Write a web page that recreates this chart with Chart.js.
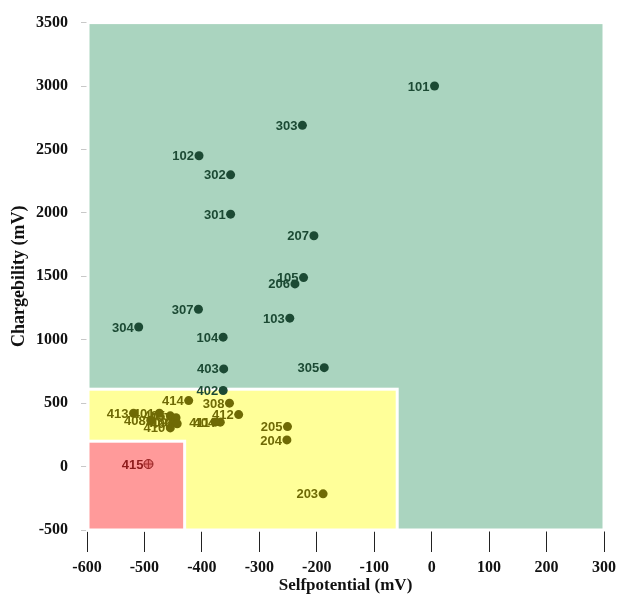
<!DOCTYPE html>
<html>
<head>
<meta charset="utf-8">
<title>Selfpotential vs Chargebility</title>
<script src="https://cdn.jsdelivr.net/npm/chart.js@4.4.1/dist/chart.umd.min.js"></script>
<style>
  html, body { margin: 0; padding: 0; background: #ffffff; }
  #wrap { width: 632px; height: 596px; }
</style>
</head>
<body>
<div id="wrap"><canvas id="chart" width="632" height="596"></canvas></div>
<script>
// Survey stations: selfpotential (mV) and chargeability (mV)
const stations = ['101','303','102','302','301','207','105','206','307','103','304','104','403','305','402',
                  '414','308','412','413','401','408','405','407','409','406','410','404','411','205','204','203',
                  '415'];
const selfPotential = [5, -225, -405, -350, -350, -205, -223, -238, -406, -247, -510, -363, -362, -187, -363,
                       -423, -352, -336, -519, -474, -489, -455, -445, -451, -443, -455, -368, -377, -251, -252, -189,
                       -493];
const chargeability = [3000, 2690, 2450, 2300, 1990, 1820, 1490, 1440, 1240, 1170, 1100, 1020, 770, 780, 600,
                       520, 500, 410, 420, 420, 365, 400, 385, 345, 338, 305, 350, 350, 315, 210, -215,
                       20];
const stationClass = ['high','high','high','high','high','high','high','high','high','high','high','high','high','high','high',
                      'moderate','moderate','moderate','moderate','moderate','moderate','moderate','moderate','moderate','moderate','moderate','moderate','moderate','moderate','moderate','moderate',
                      'low'];

// Classification zones (drawn largest first)
const zoneNames = ['high', 'moderate', 'low'];
const zoneSP = [[-600, 300], [-600, -60], [-600, -430]];
const zoneChg = [[-500, 3500], [-500, 610], [-500, 200]];

// Axis ranges and ticks
const xTicks = [-600, -500, -400, -300, -200, -100, 0, 100, 200, 300];
const yTicks = [-500, 0, 500, 1000, 1500, 2000, 2500, 3000, 3500];

const zoneFill = { high: '#aad4bf', moderate: '#ffff99', low: '#ff9a9a' };
const markColor = { high: '#1c4a34', moderate: '#6f6a05', low: '#8e1b1b' };

function pointsFor(cls) {
  const pts = [];
  stations.forEach((s, i) => {
    if (stationClass[i] === cls) pts.push({ x: selfPotential[i], y: chargeability[i], label: s });
  });
  return pts;
}

// Filled zone rectangles with a white outline, behind the points
const zonePlugin = {
  id: 'zones',
  beforeDatasetsDraw(chart) {
    const { ctx, scales: { x, y } } = chart;
    ctx.save();
    zoneNames.forEach((z, i) => {
      const x0 = x.getPixelForValue(zoneSP[i][0]);
      const x1 = x.getPixelForValue(zoneSP[i][1]);
      const y0 = y.getPixelForValue(zoneChg[i][1]);
      const y1 = y.getPixelForValue(zoneChg[i][0]);
      ctx.fillStyle = zoneFill[z];
      ctx.fillRect(x0, y0, x1 - x0, y1 - y0);
      ctx.strokeStyle = '#ffffff';
      ctx.lineWidth = 3;
      ctx.strokeRect(x0 + 1, y0, x1 - x0 - 1, y1 - y0);
    });
    ctx.restore();
  }
};

// Station numbers written to the left of each marker
const labelPlugin = {
  id: 'stationLabels',
  afterDatasetsDraw(chart) {
    const { ctx } = chart;
    ctx.save();
    ctx.font = 'bold 13px "Liberation Sans", Arial, sans-serif';
    ctx.textAlign = 'right';
    ctx.textBaseline = 'middle';
    chart.data.datasets.forEach((ds, di) => {
      if (!ds.showLabels) return;
      const meta = chart.getDatasetMeta(di);
      meta.data.forEach((el, j) => {
        ctx.fillStyle = ds.borderColor;
        ctx.fillText(ds.data[j].label, el.x - 5, el.y + 1);
      });
    });
    ctx.restore();
  }
};

const serif = '"Liberation Serif", "Times New Roman", serif';

new Chart(document.getElementById('chart'), {
  type: 'scatter',
  data: {
    datasets: [
      { data: pointsFor('high'), backgroundColor: markColor.high, borderColor: markColor.high,
        pointRadius: 4.5, borderWidth: 0, showLabels: true },
      { data: pointsFor('moderate'), backgroundColor: markColor.moderate, borderColor: markColor.moderate,
        pointRadius: 4.5, borderWidth: 0, showLabels: true },
      { data: pointsFor('low'), backgroundColor: 'rgba(200,70,70,0.45)', borderColor: markColor.low,
        pointRadius: 4.5, borderWidth: 1, showLabels: true },
      { data: pointsFor('low'), pointStyle: 'cross', backgroundColor: markColor.low, borderColor: markColor.low,
        pointRadius: 4.5, borderWidth: 1, showLabels: false }
    ]
  },
  options: {
    responsive: false,
    animation: false,
    layout: { padding: { top: 18, right: 28, left: 0, bottom: 0 } },
    plugins: { legend: { display: false }, tooltip: { enabled: false } },
    scales: {
      x: {
        type: 'linear', min: -600, max: 300,
        afterBuildTicks(scale) { scale.ticks = xTicks.map(v => ({ value: v })); },
        afterFit(scale) { scale.height = 66; },
        ticks: { color: '#111', font: { family: serif, size: 16, weight: 'bold' }, padding: 6, maxRotation: 0,
                 callback: v => String(v) },
        grid: { drawOnChartArea: false, drawTicks: true, tickLength: 22, tickColor: '#222', tickWidth: 1 },
        border: { display: true, color: '#222', width: 1 },
        title: { display: true, text: 'Selfpotential (mV)', color: '#111',
                 font: { family: serif, size: 17, weight: 'bold' }, padding: { top: 0, bottom: 0 } }
      },
      y: {
        type: 'linear', min: -500, max: 3500,
        afterBuildTicks(scale) { scale.ticks = yTicks.map(v => ({ value: v })); },
        afterFit(scale) { scale.width = 87; },
        ticks: { color: '#111', font: { family: serif, size: 16, weight: 'bold' }, padding: 13,
                 callback: v => String(v) },
        grid: { drawOnChartArea: false, drawTicks: true, tickLength: 6, tickColor: '#c8c8c8' },
        border: { display: true, color: '#c8c8c8', width: 1 },
        title: { display: true, text: 'Chargebility (mV)', color: '#111',
                 font: { family: serif, size: 18, weight: 'bold' }, padding: { top: 9, bottom: 0 } }
      }
    }
  },
  plugins: [zonePlugin, labelPlugin]
});
</script>
</body>
</html>
